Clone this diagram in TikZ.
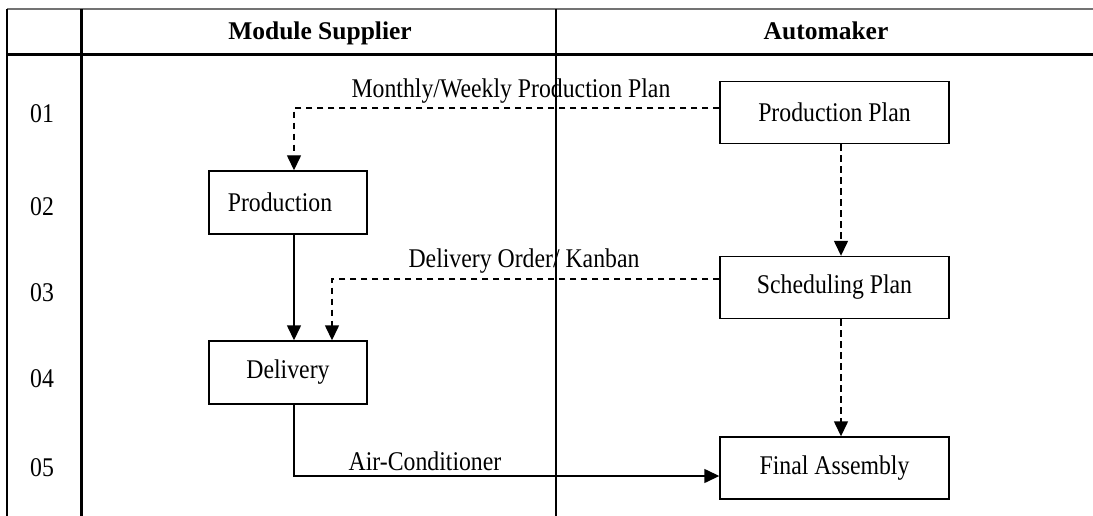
\documentclass[tikz,border=0pt]{standalone}
\usepackage{fontspec}
\setmainfont{Liberation Serif}
\newfontfamily\condserif{Liberation Serif}[FakeStretch=0.88]
\usetikzlibrary{arrows.meta}
\begin{document}
\begin{tikzpicture}[x=1pt,y=-1pt,
  txt/.style={inner sep=0pt, font=\condserif\fontsize{27}{31}\selectfont},
  head/.style={inner sep=0pt, anchor=base, font=\fontsize{25.5}{29}\selectfont\bfseries},
  lbox/.style={draw, line width=1.4pt, minimum width=158pt, minimum height=63pt, inner sep=0pt, font=\condserif\fontsize{27}{31}\selectfont},
  rbox/.style={draw, line width=1.4pt, minimum width=229pt, minimum height=62pt, inner sep=0pt, font=\condserif\fontsize{27}{31}\selectfont},
  flow/.style={line width=1.4pt, -{Triangle[width=14pt,length=15pt]}},
  info/.style={flow, dash pattern=on 6.5pt off 4.5pt},
  frame/.style={line width=1.5pt}
]
\useasboundingbox (0,0) rectangle (1093,516);

% table frame
\draw[line width=2pt, black!55] (7,9) -- (1093,9);
\draw[line width=3pt] (7,55) -- (1093,55);
\draw[frame] (7,9) -- (7,516);
\draw[line width=3pt] (81,9) -- (81,516);
\draw[frame] (556,9) -- (556,516);

% column headings
\node[head] (hsup) at (320,40) {Module Supplier};
\node[head] (hauto) at (826,40) {Automaker};

% row numbers
\node[txt] (r1) at (42,114) {01};
\node[txt] (r2) at (42,207) {02};
\node[txt] (r3) at (42,293) {03};
\node[txt] (r4) at (42,379) {04};
\node[txt] (r5) at (42,468) {05};

% process boxes
\node[lbox] (prod) at (288,202.5) {Production\hspace*{16pt}};
\node[lbox] (deliv) at (288,372.5) {Delivery};
\node[rbox] (pplan) at (834.5,112.5) {Production Plan};
\node[rbox] (splan) at (834.5,287.5) {Scheduling Plan};
\node[rbox] (final) at (834.5,468) {Final Assembly};

% bends of the routed connectors
\coordinate (c1) at (294,108);
\coordinate (c2) at (332,279);
\coordinate (c3) at (294,476);

% information flows
\draw[info] (pplan.west |- c1) -- (c1) -- (c1 |- prod.north);
\draw[info] (splan.west |- c2) -- (c2) -- (c2 |- deliv.north);
\draw[info] (841,0 |- pplan.south) -- (841,0 |- splan.north);
\draw[info] (841,0 |- splan.south) -- (841,0 |- final.north);

% material flows
\draw[flow] (294,0 |- prod.south) -- (294,0 |- deliv.north);
\draw[flow] (294,0 |- deliv.south) -- (c3) -- (c3 -| final.west);

% flow labels
\node[txt, anchor=base] (l1) at (511,98) {Monthly/Weekly Production Plan};
\node[txt, anchor=base] (l2) at (524,267) {Delivery Order/ Kanban};
\node[txt, anchor=base] (l3) at (425,470) {Air-Conditioner};
\end{tikzpicture}
\end{document}
